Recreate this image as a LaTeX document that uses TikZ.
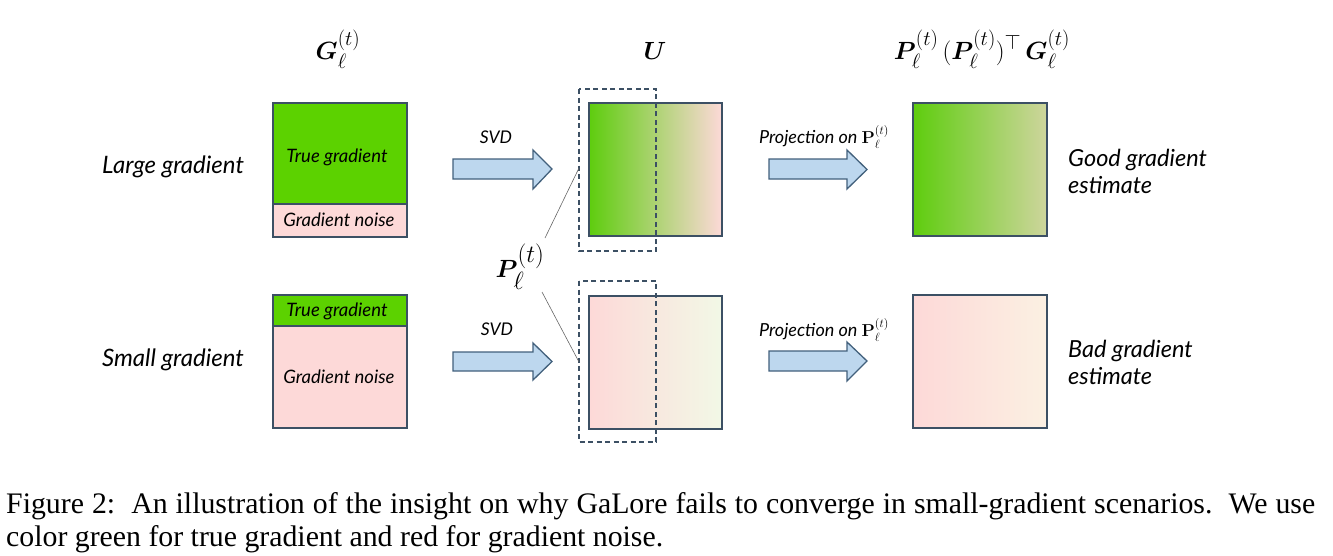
\documentclass[tikz,border=0pt]{standalone}
\usepackage{amsmath,bm}
\usepackage[no-math]{fontspec}
\setmainfont{Liberation Serif}
\newfontfamily\hand{Lato}
\definecolor{tg}{RGB}{92,210,0}
\definecolor{gstart}{RGB}{94,205,14}
\definecolor{pk}{RGB}{253,217,216}
\definecolor{umid}{RGB}{210,214,162}
\definecolor{khaki}{RGB}{206,213,157}
\definecolor{kmid}{RGB}{180,214,120}
\definecolor{lgreen}{RGB}{242,248,230}
\definecolor{bmid}{RGB}{248,236,222}
\definecolor{cream}{RGB}{251,240,226}
\definecolor{cmid}{RGB}{252,229,220}
\definecolor{bordc}{RGB}{60,80,100}
\definecolor{arrf}{RGB}{189,215,238}
\definecolor{arrb}{RGB}{66,96,124}
\begin{document}
\begin{tikzpicture}[x=1pt,y=-1pt,
  box/.style={draw=bordc, line width=1.4pt},
  blockarrow/.style={draw=arrb, fill=arrf, line width=1.3pt, line join=miter},
  dashbox/.style={draw=bordc, dash pattern=on 5pt off 3.5pt, line width=1.4pt},
  conn/.style={draw=gray!80!black, line width=0.6pt},
  side/.style={font=\hand\itshape\fontsize{24}{28}\selectfont, inner sep=0pt},
  inbox/.style={font=\hand\itshape\fontsize{18.5}{22}\selectfont, inner sep=0pt},
  small/.style={font=\hand\itshape\fontsize{17.5}{20}\selectfont, inner sep=0pt},
  proj/.style={font=\hand\itshape\fontsize{18}{20}\selectfont, inner sep=0pt},
  res/.style={font=\hand\itshape\fontsize{23.5}{27}\selectfont, inner sep=0pt, align=left, anchor=west},
  title/.style={font=\fontsize{32}{36}\selectfont, inner sep=0pt, anchor=base},
  captext/.style={font=\fontsize{29.8}{33}\selectfont, inner sep=0pt, anchor=base west}
]
\useasboundingbox (0,0) rectangle (1333,555);

% titles
\node[title] (tG) at (338,59) {$\bm{G}_\ell^{(t)}$};
\node[title] (tU) at (655,59) {$\bm{U}$};
\node[title] (tP) at (982,59) {$\bm{P}_\ell^{(t)}\,(\bm{P}_\ell^{(t)})^\top\,\bm{G}_\ell^{(t)}$};

% row labels
\node[side] (large) at (173,167) {Large gradient};
\node[side] (small) at (173,360) {Small gradient};

% left boxes
\fill[tg] (273,103) rectangle (407,204);
\fill[pk] (273,204) rectangle (407,237);
\draw[box] (273,204) -- (407,204);
\draw[box] (273,103) rectangle (407,237);
\node[inbox] (tg1) at (337,157) {True gradient};
\node[inbox] (gn1) at (339,220) {Gradient noise};

\fill[tg] (273,295) rectangle (407,326);
\fill[pk] (273,326) rectangle (407,428);
\draw[box] (273,326) -- (407,326);
\draw[box] (273,295) rectangle (407,428);
\node[inbox] (tg2) at (337,311) {True gradient};
\node[inbox] (gn2) at (339,377) {Gradient noise};

% SVD arrows
\draw[blockarrow] (453,159) -- (533,159) -- (533,150) -- (552,169) -- (533,189) -- (533,179) -- (453,179) -- cycle;
\node[small] (svd1) at (496,137) {SVD};
\draw[blockarrow] (453,352) -- (533,352) -- (533,343) -- (552,361.5) -- (533,380) -- (533,371) -- (453,371) -- cycle;
\node[small] (svd2) at (497,329) {SVD};

% U matrices
\draw[box, left color=gstart, middle color=umid, right color=pk] (589,103) rectangle (722,236);
\draw[box, left color=pk, middle color=bmid, right color=lgreen] (589,296) rectangle (722,429);
\draw[dashbox] (579,89) rectangle (656,251);
\draw[dashbox] (579,281) rectangle (656,442);

% P label
\node[font=\fontsize{34}{38}\selectfont, inner sep=0pt, anchor=base] (plbl) at (520,277) {$\bm{P}_\ell^{(t)}$};
\coordinate (la) at (579,168);
\coordinate (lb) at (545,238);
\coordinate (lc) at (542,292);
\coordinate (ld) at (579,362);
\draw[conn] (la) -- (lb);
\draw[conn] (lc) -- (ld);

% projection arrows
\draw[blockarrow] (769,159) -- (847,159) -- (847,150) -- (867,169.5) -- (847,189) -- (847,179) -- (769,179) -- cycle;
\node[proj] (pr1) at (824,137) {Projection on $\mathbf{P}_\ell^{(t)}$};
\draw[blockarrow] (769,351) -- (847,351) -- (847,342) -- (867,361) -- (847,381) -- (847,371) -- (769,371) -- cycle;
\node[proj] (pr2) at (824,330) {Projection on $\mathbf{P}_\ell^{(t)}$};

% result matrices
\draw[box, left color=gstart, middle color=kmid, right color=khaki] (913,103) rectangle (1047,236);
\draw[box, left color=pk, middle color=cmid, right color=cream] (913,295) rectangle (1047,428);
\node[res] (good) at (1068,171.5) {Good gradient\\estimate};
\node[res] (bad) at (1068,362) {Bad gradient\\estimate};

% caption
\node[captext] (cap1) at (6,513)
  {\makebox[1309pt][s]{Figure 2:\ \ An illustration of the insight on why GaLore fails to converge in small-gradient scenarios.\ \ We use}};
\node[captext] (cap2) at (6,546)
  {color green for true gradient and red for gradient noise.};
\end{tikzpicture}
\end{document}
